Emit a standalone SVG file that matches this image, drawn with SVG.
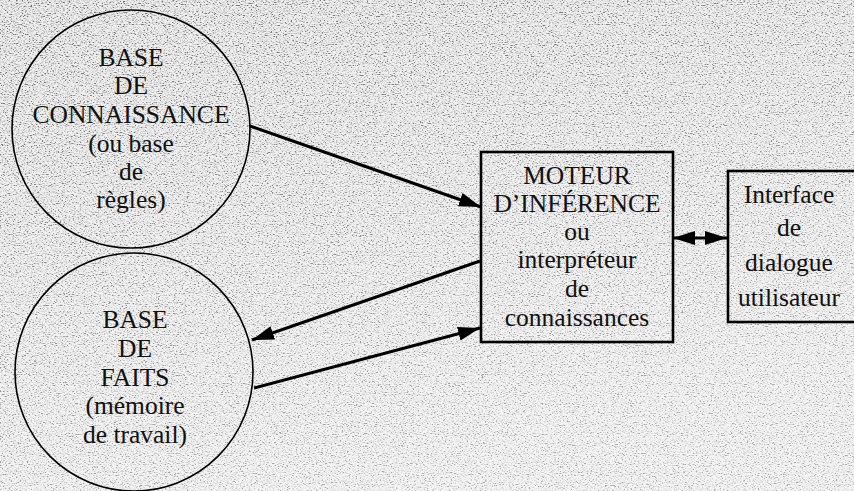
<svg xmlns="http://www.w3.org/2000/svg" width="854" height="491" viewBox="0 0 854 491">
  <defs>
    <filter id="grain" x="0" y="0" width="100%" height="100%" filterUnits="userSpaceOnUse">
      <feTurbulence type="fractalNoise" baseFrequency="0.55 0.9" numOctaves="2" seed="7" result="n"/>
      <feColorMatrix in="n" type="matrix" values="3.6 0 0 0 -1.0  3.6 0 0 0 -1.0  3.6 0 0 0 -1.0  0 0 0 0 1"/>
    </filter>
    <linearGradient id="fade" x1="0" y1="0" x2="0.4" y2="1">
      <stop offset="0" stop-color="#fff" stop-opacity="0"/>
      <stop offset="1" stop-color="#fff" stop-opacity="0.4"/>
    </linearGradient>
    <marker id="head" markerUnits="userSpaceOnUse" markerWidth="24" markerHeight="16" refX="22" refY="7" orient="auto-start-reverse">
      <path d="M0,0 L22,7 L0,14 z" fill="#000"/>
    </marker>
    <style>
      .node { fill: none; stroke: #000; }
      .circ { stroke-width: 1.6; }
      .box { stroke-width: 2.6; }
      .lbl { font-family: "Liberation Serif", "DejaVu Serif", serif; font-size: 25.5px; fill: #111; text-anchor: middle; }
      .conn { stroke: #000; stroke-width: 3; fill: none; marker-end: url(#head); }
    </style>
  </defs>

  <rect x="0" y="0" width="854" height="491" fill="#e0e0e0"/>
  <rect x="0" y="0" width="854" height="491" filter="url(#grain)" opacity="0.5"/>
  <rect x="0" y="0" width="854" height="491" fill="url(#fade)"/>

  <g id="base-connaissance">
    <circle class="node circ" cx="131" cy="129" r="119"/>
    <text class="lbl" x="131" y="66">BASE</text>
    <text class="lbl" x="131" y="94">DE</text>
    <text class="lbl" x="131" y="123">CONNAISSANCE</text>
    <text class="lbl" x="131" y="152">(ou base</text>
    <text class="lbl" x="131" y="180">de</text>
    <text class="lbl" x="131" y="208">règles)</text>
  </g>

  <g id="base-faits">
    <circle class="node circ" cx="134" cy="372" r="119"/>
    <text class="lbl" x="135" y="328">BASE</text>
    <text class="lbl" x="135" y="357">DE</text>
    <text class="lbl" x="135" y="386">FAITS</text>
    <text class="lbl" x="135" y="414">(mémoire</text>
    <text class="lbl" x="135" y="443">de travail)</text>
  </g>

  <g id="moteur">
    <rect class="node box" x="481" y="152" width="192" height="190"/>
    <text class="lbl" x="577" y="184">MOTEUR</text>
    <text class="lbl" x="577" y="212">D’INFÉRENCE</text>
    <text class="lbl" x="577" y="240">ou</text>
    <text class="lbl" x="577" y="268">interpréteur</text>
    <text class="lbl" x="577" y="297">de</text>
    <text class="lbl" x="577" y="326">connaissances</text>
  </g>

  <g id="interface">
    <rect class="node box" x="728" y="171" width="130" height="151"/>
    <text class="lbl" x="789" y="203">Interface</text>
    <text class="lbl" x="789" y="236">de</text>
    <text class="lbl" x="789" y="271">dialogue</text>
    <text class="lbl" x="789" y="306">utilisateur</text>
  </g>

  <g id="connectors">
    <line class="conn" x1="250" y1="126" x2="481" y2="207"/>
    <line class="conn" x1="480" y1="261" x2="252" y2="340"/>
    <line class="conn" x1="254" y1="388" x2="480" y2="328"/>
    <line class="conn" x1="673" y1="238" x2="727" y2="238" style="marker-start:url(#head)"/>
  </g>
</svg>
